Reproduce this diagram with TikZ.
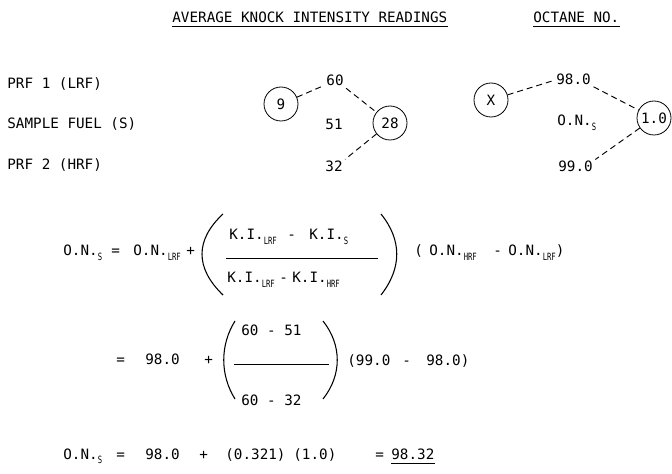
\documentclass[tikz,border=0pt]{standalone}
\usepackage{fontspec}
\setmainfont{DejaVu Sans Mono}
\usepackage{graphicx}
\newcommand\sbs[1]{\raisebox{-3.5pt}{\scalebox{0.72}[1]{\fontsize{7.5}{8}\selectfont #1}}}
\begin{document}
\begin{tikzpicture}[x=0.75pt,y=-0.75pt, line width=0.6pt,
  t/.style={inner sep=0pt, anchor=base west, font=\fontsize{10.7}{12}\selectfont},
  tc/.style={t, anchor=base},
  ring/.style={circle, draw, minimum size=25.5pt, inner sep=0pt, font=\fontsize{10.7}{12}\selectfont},
  dsh/.style={line width=0.7pt, dash pattern=on 4.5pt off 3pt},
  ul/.style={line width=0.7pt},
  brk/.style={line width=0.8pt}]
\useasboundingbox (0,0) rectangle (672,474);

% headings
\node[t] (title) at (172,23) {AVERAGE KNOCK INTENSITY READINGS};
\node[t] (oct) at (533,23) {OCTANE NO.};
\draw[ul] ([yshift=-2.5pt]title.base west) -- ([yshift=-2.5pt]title.base east);
\draw[ul] ([yshift=-2.5pt]oct.base west) -- ([yshift=-2.5pt]oct.base east);

% row labels
\node[t] (l1) at (7,89) {PRF 1 (LRF)};
\node[t] (l2) at (7,129) {SAMPLE FUEL (S)};
\node[t] (l3) at (7,170) {PRF 2 (HRF)};

% knock intensity
\node[tc] (n60) at (335,86) {60};
\node[tc] (n51) at (334,130) {51};
\node[tc] (n32) at (334,172) {32};
\node[ring] (c9) at (281,104) {9};
\node[ring] (c28) at (390,123) {28};
\draw[dsh, shorten >=3pt] (c9) -- (n60);
\draw[dsh, shorten <=2pt] (n60.south east) -- (c28);
\draw[dsh, shorten >=2pt] (c28) -- (n32.north east);

% octane numbers
\node[t] (n98) at (556,85) {98.0};
\node[t] (ons) at (557,126) {O.N.\sbs{S}};
\node[t] (n99) at (558,172) {99.0};
\node[ring] (cX) at (491,100) {X};
\node[ring] (c10) at (654,118) {1.0};
\draw[dsh, shorten >=1pt] (cX) -- (n98.west);
\draw[dsh, shorten <=2pt] (n98.south east) -- (c10);
\draw[dsh, shorten >=2pt] (c10) -- (n99.north east);

% equation line 1
\node[t] (a1) at (63,256) {O.N.\sbs{S}};
\node[t] (a2) at (111,256) {=};
\node[t] (a3) at (133,256) {O.N.\sbs{LRF}};
\node[t] (a4) at (186,256) {+};
\node[t] (a5) at (229,240) {K.I.\sbs{LRF}};
\node[t] (a6) at (287,240) {-};
\node[t] (a7) at (309,240) {K.I.\sbs{S}};
\node[t] (a8) at (227,283) {K.I.\sbs{LRF}};
\node[t] (a9) at (279,283) {-};
\node[t] (a10) at (292,283) {K.I.\sbs{HRF}};
\node[t] (a11) at (414,256) {(};
\node[t] (a12) at (429,256) {O.N.\sbs{HRF}};
\node[t] (a13) at (493,256) {-};
\node[t] (a14) at (508,256) {O.N.\sbs{LRF})};
\draw[brk] (223,214) .. controls (195,240) and (195,268) .. (223,295);
\draw[brk] (381,214) .. controls (402,240) and (402,268) .. (381,295);
\draw (226,258) -- (378,258);

% equation line 2
\node[t] (b1) at (116,364) {=};
\node[t] (b2) at (145,364) {98.0};
\node[t] (b3) at (204,364) {+};
\node[t] (b4) at (241,335) {60 - 51};
\node[t] (b5) at (241,406) {60 - 32};
\node[t] (b6) at (347,366) {(99.0};
\node[t] (b7) at (402,366) {-};
\node[t] (b8) at (426,366) {98.0)};
\draw[brk] (235,321) .. controls (220,345) and (220,375) .. (235,399);
\draw[brk] (323,321) .. controls (342,345) and (342,375) .. (323,399);
\draw (234,364) -- (329,364);

% equation line 3
\node[t] (c1) at (63,459) {O.N.\sbs{S}};
\node[t] (c2) at (116,459) {=};
\node[t] (c3) at (145,459) {98.0};
\node[t] (c4) at (199,459) {+};
\node[t] (c5) at (225,459) {(0.321)};
\node[t] (c6) at (293,459) {(1.0)};
\node[t] (c7) at (375,459) {=};
\node[t] (c8) at (391,459) {98.32};
\draw[ul] ([yshift=-3pt]c8.base west) -- ([yshift=-3pt]c8.base east);
\end{tikzpicture}
\end{document}
